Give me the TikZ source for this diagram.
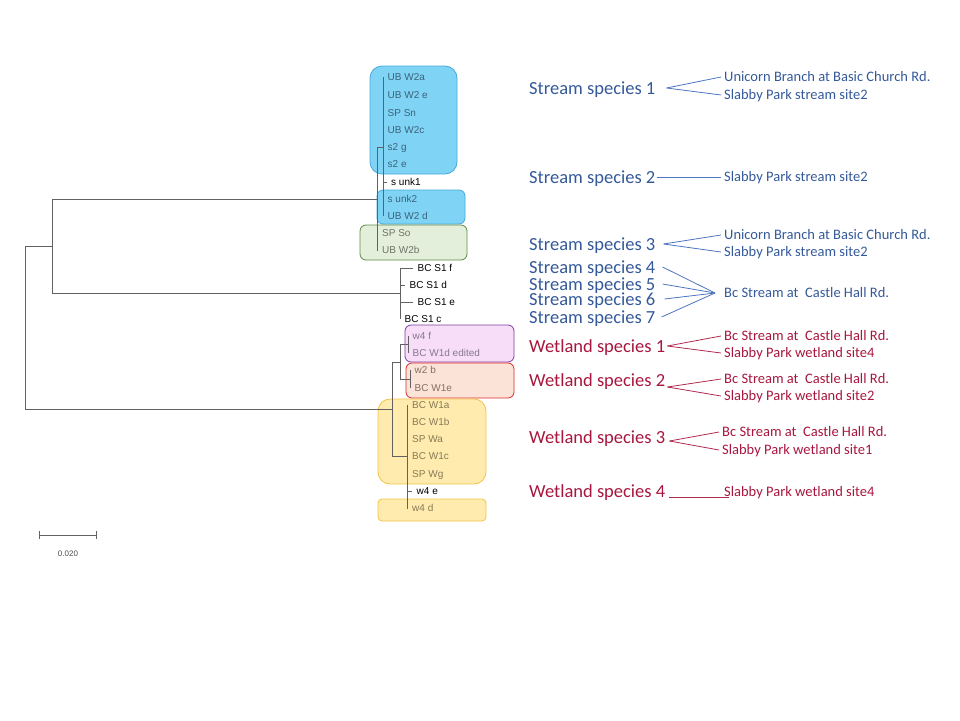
\documentclass[tikz,border=0pt]{standalone}
\usepackage{fontspec}
\setmainfont{Carlito}
\newfontfamily\treefont{Liberation Sans}
\usetikzlibrary{positioning}

\definecolor{streamtext}{HTML}{34599A}
\definecolor{streamline}{HTML}{4D74C0}
\definecolor{wettext}{HTML}{A8163F}
\definecolor{wetline}{HTML}{B02A4E}
\definecolor{bluefill}{HTML}{7FD4F6}
\definecolor{blueedge}{HTML}{47A9DA}
\definecolor{greenfill}{HTML}{E3EFDA}
\definecolor{greenedge}{HTML}{5F8A45}
\definecolor{purplefill}{HTML}{F7DDF8}
\definecolor{purpleedge}{HTML}{7B3FA2}
\definecolor{redfill}{HTML}{FBE3D7}
\definecolor{rededge}{HTML}{DD2A2A}
\definecolor{yellowfill}{HTML}{FFEBAE}
\definecolor{yellowedge}{HTML}{F2C348}
\definecolor{bluetip}{HTML}{3D6278}
\definecolor{greentip}{HTML}{6F7468}
\definecolor{purpletip}{HTML}{86798A}
\definecolor{redtip}{HTML}{87705F}
\definecolor{yellowtip}{HTML}{877A55}

\begin{document}
\begin{tikzpicture}[
    x=1pt, y=-1pt,
    branch/.style={draw=black!62, line width=1pt},
    tip/.style={anchor=west, inner xsep=4.5pt, inner ysep=0pt, text height=7pt, text depth=0.5pt, font=\treefont\fontsize{10}{12}\selectfont},
    tipblue/.style={tip, text=bluetip},
    tipgreen/.style={tip, text=greentip},
    tippurple/.style={tip, text=purpletip},
    tipred/.style={tip, text=redtip},
    tipyellow/.style={tip, text=yellowtip},
    clade/.style={rounded corners=#1, line width=0.8pt},
    clade/.default=12pt,
    species/.style={anchor=west, inner sep=0pt, text height=12pt, text depth=0pt, font=\fontsize{18.5}{20}\selectfont},
    site/.style={anchor=west, inner xsep=3pt, inner ysep=0pt, text height=9.3pt, text depth=0pt, font=\fontsize{14.5}{16}\selectfont},
    sline/.style={draw=streamline, line width=0.8pt},
    wline/.style={draw=wetline, line width=0.8pt}
]
\useasboundingbox (0,0) rectangle (960,720);

% Clade boxes
\path[clade, fill=bluefill, draw=blueedge] (370,66) rectangle (457,174);
\path[clade=6pt, fill=bluefill, draw=blueedge] (377,190) rectangle (465,224);
\path[clade=6pt, fill=greenfill, draw=greenedge] (360,225) rectangle (467,260);
\path[clade=6pt, fill=purplefill, draw=purpleedge] (405,325) rectangle (514,362);
\path[clade=6pt, fill=redfill, draw=rededge] (406,363) rectangle (514,398);
\path[clade, fill=yellowfill, draw=yellowedge] (378,399) rectangle (486,484);
\path[clade=4pt, fill=yellowfill, draw=yellowedge] (378,499) rectangle (486,521);

% Tips
\node[tipblue] (ubw2a) at (383,77) {UB W2a};
\node[tipblue] (ubw2e) at (383,95) {UB W2 e};
\node[tipblue] (spsn) at (383,113) {SP Sn};
\node[tipblue] (ubw2c) at (383,130) {UB W2c};
\node[tipblue] (s2g) at (383,147) {s2 g};
\node[tipblue] (s2e) at (383,164) {s2 e};
\node[tip] (sunk1) at (386.5,182) {s unk1};
\node[tipblue] (sunk2) at (383,199) {s unk2};
\node[tipblue] (ubw2d) at (383,216) {UB W2 d};
\node[tipgreen] (spso) at (377.5,233) {SP So};
\node[tipgreen] (ubw2b) at (377.5,250) {UB W2b};
\node[tip] (bcs1f) at (413,268) {BC S1 f};
\node[tip] (bcs1d) at (405,285) {BC S1 d};
\node[tip] (bcs1e) at (413,302) {BC S1 e};
\node[tip] (bcs1c) at (400,319) {BC S1 c};
\node[tippurple] (w4f) at (408,336) {w4 f};
\node[tippurple] (bcw1d) at (408,353) {BC W1d edited};
\node[tipred] (w2b) at (410,370) {w2 b};
\node[tipred] (bcw1e) at (410,388) {BC W1e};
\node[tipyellow] (bcw1a) at (407.5,405) {BC W1a};
\node[tipyellow] (bcw1b) at (407.5,422) {BC W1b};
\node[tipyellow] (spwa) at (407.5,439) {SP Wa};
\node[tipyellow] (bcw1c) at (407.5,456) {BC W1c};
\node[tipyellow] (spwg) at (407.5,474) {SP Wg};
\node[tip] (w4e) at (412,491) {w4 e};
\node[tipyellow] (w4d) at (407.5,508) {w4 d};

% Inner nodes of the tree
\coordinate (root) at (25,327);
\coordinate (upper) at (52,246);
\coordinate (streamA) at (377,199);
\coordinate (streamAA) at (383,147);
\coordinate (streamB) at (400,293);
\coordinate (wetC) at (392,409);
\coordinate (wetCA) at (400,362);
\coordinate (wetCAA) at (408,344);
\coordinate (wetCAB) at (410,379);
\coordinate (wetCB) at (407,456);

% Branches
\draw[branch] (root) |- (upper) (root) |- (wetC);
\draw[branch] (upper) |- (streamA) (upper) |- (streamB);
\draw[branch] (streamA) |- (streamAA) (streamA) |- (spso.west) (streamA) |- (ubw2b.west);
\draw[branch] (streamAA) |- (ubw2a.west) (streamAA) |- (ubw2d.west) (streamAA) |- (sunk1.west);
\draw[branch] (streamB) |- (bcs1f.west) (streamB) |- (bcs1c.west) (streamB) |- (bcs1d.west) (streamB) |- (bcs1e.west);
\draw[branch] (wetC) |- (wetCA) (wetC) |- (wetCB);
\draw[branch] (wetCA) |- (wetCAA) (wetCA) |- (wetCAB);
\draw[branch] (wetCAA) |- (w4f.west) (wetCAA) |- (bcw1d.west);
\draw[branch] (wetCAB) |- (w2b.west) (wetCAB) |- (bcw1e.west);
\draw[branch] (wetCB) |- (bcw1a.west) (wetCB) |- (w4d.west) (wetCB) |- (w4e.west);

% Scale bar
\draw[branch, |-|] (39,535) -- (97,535);
\node[font=\treefont\fontsize{8}{9}\selectfont, text=black!70] (scale) at (68,554) {0.020};

% Stream species
\node[species, text=streamtext] (ss1) at (529,88) {Stream species 1};
\node[species, text=streamtext] (ss2) at (529,177) {Stream species 2};
\node[species, text=streamtext] (ss3) at (529,244) {Stream species 3};
\node[species, text=streamtext] (ss4) at (529,267) {Stream species 4};
\node[species, text=streamtext] (ss5) at (529,284) {Stream species 5};
\node[species, text=streamtext] (ss6) at (529,299) {Stream species 6};
\node[species, text=streamtext] (ss7) at (529,317) {Stream species 7};

\node[site, text=streamtext] (su1) at (721,77) {Unicorn Branch at Basic Church Rd.};
\node[site, text=streamtext] (sp1) at (721,95) {Slabby Park stream site2};
\node[site, text=streamtext] (sp2) at (721,177) {Slabby Park stream site2};
\node[site, text=streamtext] (su3) at (721,235) {Unicorn Branch at Basic Church Rd.};
\node[site, text=streamtext] (sp3) at (721,252) {Slabby Park stream site2};
\node[site, text=streamtext] (sbc) at (721,293) {Bc Stream at\ \ Castle Hall Rd.};

% Wetland species
\node[species, text=wettext] (ws1) at (529,346) {Wetland species 1};
\node[species, text=wettext] (ws2) at (529,380) {Wetland species 2};
\node[species, text=wettext] (ws3) at (529,437) {Wetland species 3};
\node[species, text=wettext] (ws4) at (529,491) {Wetland species 4};

\node[site, text=wettext] (wb1) at (721,336) {Bc Stream at\ \ Castle Hall Rd.};
\node[site, text=wettext] (wp1) at (721,353) {Slabby Park wetland site4};
\node[site, text=wettext] (wb2) at (721,379) {Bc Stream at\ \ Castle Hall Rd.};
\node[site, text=wettext] (wp2) at (721,396) {Slabby Park wetland site2};
\node[site, text=wettext] (wb3) at (719,432) {Bc Stream at\ \ Castle Hall Rd.};
\node[site, text=wettext] (wp3) at (719,450) {Slabby Park wetland site1};
\node[site, text=wettext] (wp4) at (721,492) {Slabby Park wetland site4};

% Links to sites
\draw[sline] ([xshift=11pt]ss1.east) -- (su1.west);
\draw[sline] ([xshift=11pt]ss1.east) -- (sp1.west);
\draw[sline] ([xshift=1pt]ss2.east) -- (sp2.west);
\draw[sline] ([xshift=8pt]ss3.east) -- (su3.west);
\draw[sline] ([xshift=8pt]ss3.east) -- (sp3.west);
\draw[sline] ([xshift=7pt]ss4.east) -- ([xshift=-6pt]sbc.west);
\draw[sline] ([xshift=7pt]ss5.east) -- ([xshift=-6pt]sbc.west);
\draw[sline] ([xshift=9pt]ss6.east) -- ([xshift=-6pt]sbc.west);
\draw[sline] ([xshift=6pt]ss7.east) -- ([xshift=-6pt]sbc.west);
\draw[wline] ([xshift=2pt]ws1.east) -- (wb1.west);
\draw[wline] ([xshift=2pt]ws1.east) -- (wp1.west);
\draw[wline] ([xshift=2pt,yshift=-7pt]ws2.east) -- (wb2.west);
\draw[wline] ([xshift=2pt,yshift=-7pt]ws2.east) -- (wp2.west);
\draw[wline] ([xshift=4pt,yshift=-4pt]ws3.east) -- (wb3.west);
\draw[wline] ([xshift=4pt,yshift=-4pt]ws3.east) -- (wp3.west);
\draw[wline] ([xshift=4pt,yshift=-6pt]ws4.east) -- ([xshift=8pt,yshift=-5pt]wp4.west);
\end{tikzpicture}
\end{document}
